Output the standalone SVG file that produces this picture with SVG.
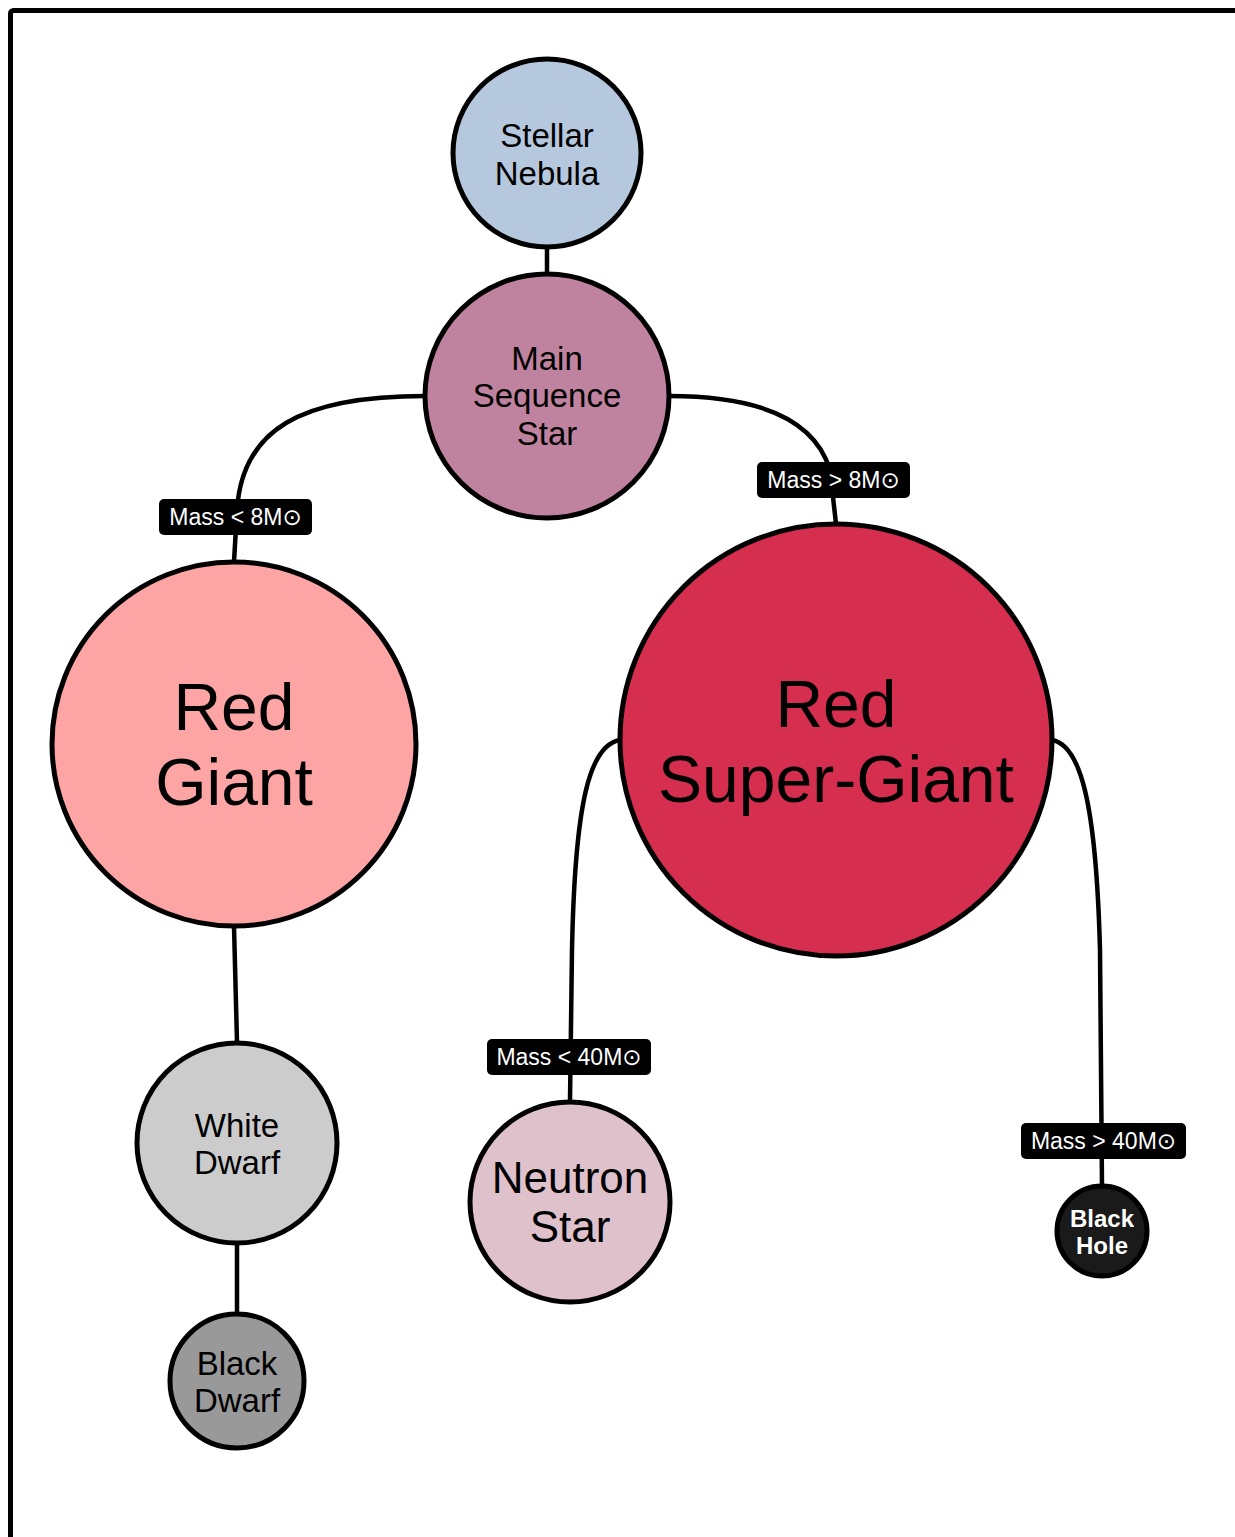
<svg xmlns="http://www.w3.org/2000/svg" width="1235" height="1537" viewBox="0 0 1235 1537">
<style>
.n{stroke:#000;stroke-width:5}
.t{font-family:"Liberation Sans",Arial,"DejaVu Sans",sans-serif;text-anchor:middle;fill:#000}
.c{fill:none;stroke:#000;stroke-width:4.5}
.lb{fill:#000}
.lt{font-family:"Liberation Sans",Arial,"DejaVu Sans",sans-serif;font-size:23px;text-anchor:middle;fill:#fff}
</style>
<rect width="1235" height="1537" fill="#fff"/>
<rect x="10.5" y="10.5" width="1400" height="1700" rx="3" fill="none" stroke="#000" stroke-width="5"/>
<g id="connectors">
<path class="c" d="M547,247 L547,273"/>
<path class="c" d="M425,396 C300,396 242,430 237,510 L234,562"/>
<path class="c" d="M669,396 C760,396 815,420 830,470 L836,524"/>
<path class="c" d="M620,740 C590,745 575,800 572,950 L570,1101"/>
<path class="c" d="M1052,740 C1080,745 1096,800 1100,950 L1102,1186"/>
<path class="c" d="M234,926 L237,1042"/>
<path class="c" d="M237,1244 L237,1313"/>
</g>
<g id="label-lt8">
<rect class="lb" x="159" y="499" width="153" height="36" rx="5"/>
<text class="lt" x="235.5" y="525">Mass &lt; 8M⊙</text>
</g>
<g id="label-gt8">
<rect class="lb" x="757" y="462" width="153" height="36" rx="5"/>
<text class="lt" x="833.5" y="488">Mass &gt; 8M⊙</text>
</g>
<g id="label-lt40">
<rect class="lb" x="487" y="1039" width="164" height="36" rx="5"/>
<text class="lt" x="569" y="1065">Mass &lt; 40M⊙</text>
</g>
<g id="label-gt40">
<rect class="lb" x="1021" y="1123" width="165" height="36" rx="5"/>
<text class="lt" x="1103.5" y="1149">Mass &gt; 40M⊙</text>
</g>
<g id="stellar-nebula">
<circle class="n" cx="547" cy="153" r="94" fill="#b5c8de"/>
<text class="t" font-size="33" x="547" y="147">Stellar</text>
<text class="t" font-size="33" x="547" y="185">Nebula</text>
</g>
<g id="main-sequence-star">
<circle class="n" cx="547" cy="396" r="122" fill="#c0839f"/>
<text class="t" font-size="33" x="547" y="370">Main</text>
<text class="t" font-size="33" x="547" y="407">Sequence</text>
<text class="t" font-size="33" x="547" y="445">Star</text>
</g>
<g id="red-giant">
<circle class="n" cx="234" cy="744" r="182" fill="#fda5a5"/>
<text class="t" font-size="66" x="234" y="730">Red</text>
<text class="t" font-size="66" x="234" y="805">Giant</text>
</g>
<g id="red-super-giant">
<circle class="n" cx="836" cy="740" r="216" fill="#d52e4e"/>
<text class="t" font-size="66" x="836" y="727">Red</text>
<text class="t" font-size="66" x="836" y="802">Super-Giant</text>
</g>
<g id="white-dwarf">
<circle class="n" cx="237" cy="1143" r="100" fill="#cccccc"/>
<text class="t" font-size="33" x="237" y="1137">White</text>
<text class="t" font-size="33" x="237" y="1174">Dwarf</text>
</g>
<g id="black-dwarf">
<circle class="n" cx="237" cy="1381" r="67" fill="#999999"/>
<text class="t" font-size="33" x="237" y="1375">Black</text>
<text class="t" font-size="33" x="237" y="1412">Dwarf</text>
</g>
<g id="neutron-star">
<circle class="n" cx="570" cy="1202" r="100" fill="#dfc1cb"/>
<text class="t" font-size="44" x="570" y="1193">Neutron</text>
<text class="t" font-size="44" x="570" y="1242">Star</text>
</g>
<g id="black-hole">
<circle class="n" cx="1102" cy="1231" r="45" fill="#1a1a1a"/>
<text class="t" font-size="24" font-weight="bold" style="fill:#fff" x="1102" y="1227">Black</text>
<text class="t" font-size="24" font-weight="bold" style="fill:#fff" x="1102" y="1254">Hole</text>
</g>
</svg>
